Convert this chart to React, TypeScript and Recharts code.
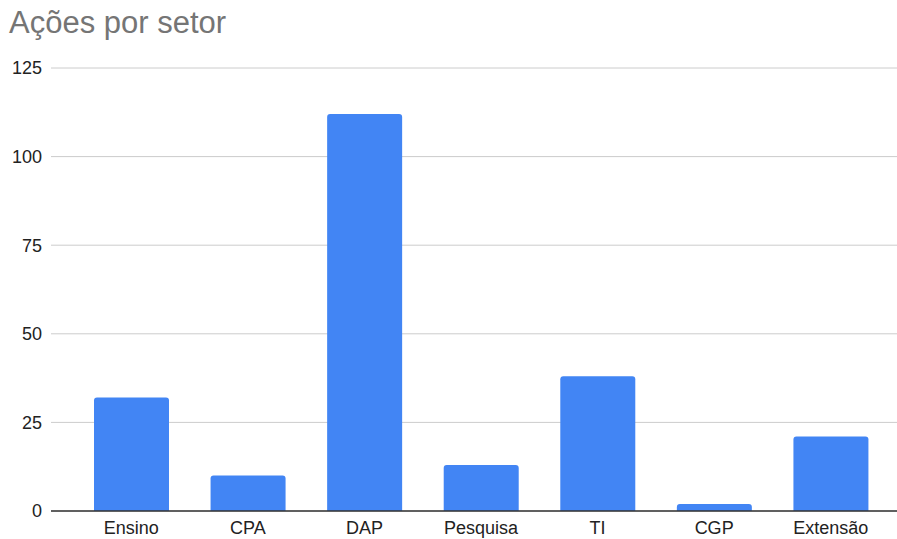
import React from 'react';
import { BarChart, Bar, XAxis, YAxis, CartesianGrid } from 'recharts';

const setores = ['Ensino', 'CPA', 'DAP', 'Pesquisa', 'TI', 'CGP', 'Extensão'];
const acoes = [32, 10, 112, 13, 38, 2, 21];
const yTicks = [0, 25, 50, 75, 100, 125];

const data = setores.map((setor, i) => ({ setor, acoes: acoes[i] }));

const font = 'Arial, "Liberation Sans", sans-serif';

export default function App() {
  return (
    <div style={{ position: 'absolute', left: 0, top: 0, width: 897, height: 539, background: '#fff' }}>
      <div
        style={{
          position: 'absolute',
          left: 9,
          top: 3,
          fontFamily: font,
          fontSize: 31,
          color: '#757575',
          lineHeight: '40px',
        }}
      >
        Ações por setor
      </div>
      <BarChart
        width={897}
        height={539}
        data={data}
        margin={{ top: 68, right: 0, bottom: 0, left: 0 }}
        barSize={75}
      >
        <CartesianGrid vertical={false} stroke="#cccccc" strokeWidth={1} />
        <XAxis
          dataKey="setor"
          height={28}
          padding={{ left: 22, right: 8 }}
          tickLine={false}
          tickSize={0}
          tickMargin={10}
          axisLine={{ stroke: '#333333', strokeWidth: 1.5 }}
          tick={{ fontFamily: font, fontSize: 18, fill: '#222222' }}
          interval={0}
        />
        <YAxis
          width={51}
          domain={[0, 125]}
          ticks={yTicks}
          axisLine={false}
          tickLine={false}
          tickSize={0}
          tickMargin={9}
          tick={{ fontFamily: font, fontSize: 18, fill: '#222222' }}
        />
        <Bar dataKey="acoes" fill="#4285f4" radius={[3, 3, 0, 0]} isAnimationActive={false} />
      </BarChart>
    </div>
  );
}
